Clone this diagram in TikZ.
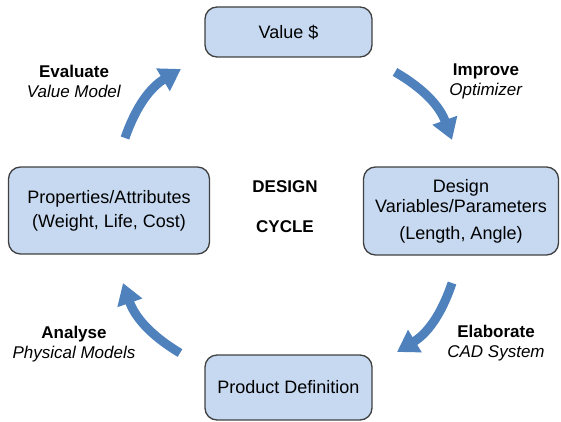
\documentclass[tikz,border=0pt]{standalone}
\usepackage{fontspec}
\setmainfont{Liberation Sans}
\usepackage{tikz}
\usetikzlibrary{arrows.meta}
\definecolor{boxblue}{RGB}{198,217,241}
\definecolor{arrowblue}{RGB}{79,129,189}
\definecolor{boxedge}{RGB}{64,64,64}

\begin{document}
\begin{tikzpicture}[node distance=176pt]
        \tikzstyle{stage} = [rectangle, rounded corners=12pt, minimum width=167pt, minimum height=50pt, text centered, align=center, draw=boxedge, line width=1.3pt, fill=boxblue, font=\fontsize{18}{20}\selectfont]
        \tikzstyle{activity} = [align=center, font=\fontsize{17}{20}\selectfont]
        \tikzstyle{arrow} = [arrowblue, line width=9pt, -{Triangle[width=25pt,length=21pt]}, bend left=20]

        \useasboundingbox (0,0) rectangle (561pt,-422pt);

        \node (cycle) [activity, font=\bfseries\fontsize{17}{20}\selectfont] at (285pt,-207pt) {DESIGN\\[20pt]CYCLE};
        \node (value) [stage, above of=cycle, xshift=3.5pt, yshift=-1pt] {Value \$};
        \node (props) [stage, left of=cycle, minimum width=201pt, minimum height=87pt, yshift=-3.5pt] {Properties/Attributes\\[4pt](Weight, Life, Cost)};
        \node (design) [stage, right of=cycle, minimum width=195pt, minimum height=88pt, yshift=-4pt] {Design\\Variables/Parameters\\[7pt](Length, Angle)};
        \node (product) [stage, below of=cycle, minimum height=65pt, xshift=3.5pt, yshift=-4.5pt] {Product Definition};

        \node (evaluate) [activity] at (74pt,-81pt) {\textbf{Evaluate}\\\textit{Value Model}};
        \node (improve) [activity] at (486pt,-81pt) {\textbf{Improve}\\\textit{Optimizer}};
        \node (analyse) [activity] at (74pt,-344pt) {\textbf{Analyse}\\\textit{Physical Models}};
        \node (elaborate) [activity] at (496pt,-343pt) {\textbf{Elaborate}\\\textit{CAD System}};

        \coordinate (evalfrom) at (125pt,-138pt);
        \coordinate (evalto) at (181pt,-69pt);
        \coordinate (impfrom) at (395pt,-72pt);
        \coordinate (impto) at (452pt,-140pt);
        \coordinate (elabfrom) at (452pt,-283pt);
        \coordinate (elabto) at (397pt,-352pt);
        \coordinate (anafrom) at (180pt,-353pt);
        \coordinate (anato) at (123pt,-283pt);

        \draw [arrow] (evalfrom) to (evalto);
        \draw [arrow] (impfrom) to (impto);
        \draw [arrow] (elabfrom) to (elabto);
        \draw [arrow] (anafrom) to (anato);
    \end{tikzpicture}
\end{document}
